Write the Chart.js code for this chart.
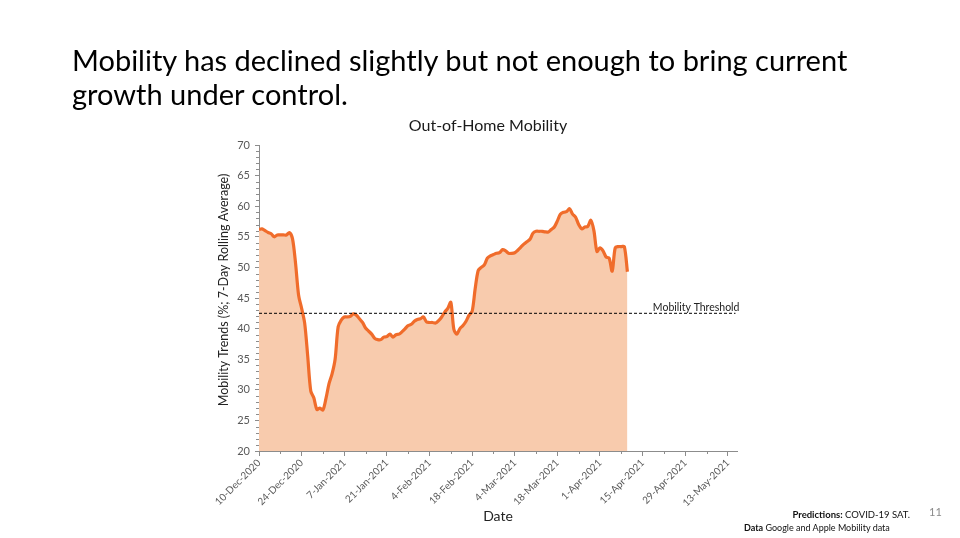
<!DOCTYPE html>
<html>
<head>
<meta charset="utf-8">
<script src="https://cdn.jsdelivr.net/npm/chart.js@4.4.0/dist/chart.umd.min.js"></script>
<style>
  body { margin: 0; background: #fff; font-family: Lato, "Open Sans", sans-serif; }
  #slide { position: relative; width: 960px; height: 538px; overflow: hidden; }
  #myChart { position: absolute; left: 0; top: 0; }
  .txt { position: absolute; white-space: nowrap; }
  #heading { left: 72px; top: 43px; font-size: 29px; line-height: 34px; color: #000; }
  #chartTitle { left: 0; width: 976px; text-align: center; top: 115px; font-size: 16px; color: #1a1a1a; }
  #pred { right: 50px; top: 509px; font-size: 9.5px; color: #111; }
  #data { left: 744px; top: 522px; font-size: 9px; color: #111; }
  #page { left: 929px; top: 505px; font-size: 11px; color: #8a8a8a; }
</style>
</head>
<body>
<div id="slide">
  <canvas id="myChart" width="960" height="538"></canvas>
  <div class="txt" id="heading">Mobility has declined slightly but not enough to bring current<br>growth under control.</div>
  <div class="txt" id="chartTitle">Out-of-Home Mobility</div>
  <div class="txt" id="pred"><b>Predictions:</b> COVID-19 SAT.</div>
  <div class="txt" id="data"><b>Data</b> Google and Apple Mobility data</div>
  <div class="txt" id="page">11</div>
</div>
<script>
"use strict";

// daily 7-day rolling average, 10-Dec-2020 .. 10-Apr-2021
const mobility = [
  56.2, 56.3, 56.0, 55.7, 55.5, 55.0, 55.3, 55.3, 55.3, 55.3,
  55.7, 54.7, 50.7, 45.5, 43.3, 40.9, 35.5, 29.8, 28.7, 26.8,
  27.0, 26.7, 28.6, 31.0, 32.6, 35.0, 40.3, 41.4, 41.9, 41.9,
  42.0, 42.4, 42.2, 41.6, 41.0, 40.1, 39.6, 39.1, 38.4, 38.2,
  38.2, 38.6, 38.7, 39.1, 38.6, 39.0, 39.1, 39.5, 40.0, 40.5,
  40.7, 41.2, 41.5, 41.6, 41.9, 41.1, 41.0, 41.0, 40.9, 41.3,
  41.9, 42.7, 43.3, 44.3, 39.9, 39.1, 40.0, 40.5, 41.2, 42.2,
  42.8, 46.5, 49.5, 50.0, 50.4, 51.5, 51.9, 52.1, 52.3, 52.4,
  52.9, 52.7, 52.3, 52.3, 52.4, 52.8, 53.3, 53.8, 54.2, 54.6,
  55.6, 55.9, 55.9, 55.9, 55.8, 55.8, 56.2, 56.6, 57.6, 58.7,
  59.0, 59.1, 59.6, 58.7, 58.2, 57.0, 56.3, 56.6, 56.7, 57.7,
  56.0, 52.6, 53.2, 52.7, 51.7, 51.5, 49.4, 53.2, 53.4, 53.4,
  53.4, 49.3
];

const tickDays = [0, 14, 28, 42, 56, 70, 84, 98, 112, 126, 140, 154];
const tickLabels = ['10-Dec-2020', '24-Dec-2020', '7-Jan-2021', '21-Jan-2021', '4-Feb-2021', '18-Feb-2021',
  '4-Mar-2021', '18-Mar-2021', '1-Apr-2021', '15-Apr-2021', '29-Apr-2021', '13-May-2021'];
const yTicks = [20, 25, 30, 35, 40, 45, 50, 55, 60, 65, 70];

const threshold = 42.5;
const thresholdRange = [0, 156.5];
const xRange = [0, 157];

const yTitle = 'Mobility Trends (%; 7-Day Rolling Average)';

const axisColor = '#8c8c8c';
const labelColor = '#595959';

const ctx = document.getElementById('myChart');

// small unlabelled ticks: weekly on x, every unit on y
const minorTicks = {
  id: 'minorTicks',
  afterDraw(chart) {
    const c = chart.ctx;
    const x = chart.scales.x, y = chart.scales.y;
    c.save();
    c.strokeStyle = axisColor;
    c.lineWidth = 1;
    c.beginPath();
    for (let v = yTicks[0]; v <= yTicks[yTicks.length - 1]; v++) {
      if (v % 5 === 0) continue;
      const py = Math.round(y.getPixelForValue(v)) + 0.5;
      c.moveTo(x.left - 3, py);
      c.lineTo(x.left, py);
    }
    for (let d = 7; d <= tickDays[tickDays.length - 1]; d += 14) {
      const px = Math.round(x.getPixelForValue(d)) + 0.5;
      c.moveTo(px, y.bottom);
      c.lineTo(px, y.bottom + 3);
    }
    c.stroke();
    c.restore();
  }
};

// threshold label + y title (sits a bit above the axis centre in the original)
const extraText = {
  id: 'extraText',
  afterDatasetsDraw(chart) {
    const c = chart.ctx;
    const x = chart.scales.x, y = chart.scales.y;
    c.save();
    c.font = '10.5px Lato, sans-serif';
    c.fillStyle = '#222';
    c.textAlign = 'right';
    c.textBaseline = 'alphabetic';
    c.fillText('Mobility Threshold', x.getPixelForValue(thresholdRange[1]) + 4, y.getPixelForValue(threshold) - 2);

    c.translate(x.left - 35, (y.top + y.bottom) / 2 - 8);
    c.rotate(-Math.PI / 2);
    c.font = '12.5px Lato, sans-serif';
    c.textAlign = 'center';
    c.textBaseline = 'middle';
    c.fillText(yTitle, 0, 0);
    c.restore();
  }
};

new Chart(ctx, {
  type: 'line',
  data: {
    datasets: [{
      label: 'Out-of-Home Mobility',
      data: mobility.map((v, i) => ({ x: i, y: v })),
      borderColor: '#F06C2B',
      backgroundColor: '#F8CBAD',
      borderWidth: 3.2,
      fill: 'start',
      pointRadius: 0,
      tension: 0.3,
      order: 2
    }, {
      label: 'Mobility Threshold',
      data: thresholdRange.map(d => ({ x: d, y: threshold })),
      borderColor: '#000',
      borderWidth: 1,
      borderDash: [3, 2],
      fill: false,
      pointRadius: 0,
      order: 1
    }]
  },
  options: {
    responsive: false,
    animation: false,
    layout: { padding: { left: 199, right: 223, top: 145, bottom: 13 } },
    plugins: {
      legend: { display: false },
      tooltip: { enabled: false }
    },
    scales: {
      x: {
        type: 'linear',
        min: xRange[0],
        max: xRange[1],
        afterBuildTicks: scale => { scale.ticks = tickDays.map(d => ({ value: d })); },
        afterFit: scale => { scale.height = 74; },
        ticks: {
          autoSkip: false,
          minRotation: 45,
          maxRotation: 45,
          padding: 1,
          color: labelColor,
          font: { family: 'Lato', size: 10 },
          callback: (val) => tickLabels[tickDays.indexOf(val)]
        },
        grid: { drawOnChartArea: false, drawTicks: true, tickLength: 5, color: axisColor },
        border: { color: axisColor },
        title: {
          display: true,
          text: 'Date',
          color: '#222',
          font: { family: 'Lato', size: 14 },
          padding: { top: 4, bottom: 0 }
        }
      },
      y: {
        min: 20,
        max: 70,
        afterBuildTicks: scale => { scale.ticks = yTicks.map(v => ({ value: v })); },
        afterFit: scale => { scale.width = 60; },
        ticks: {
          padding: 5,
          color: labelColor,
          font: { family: 'Lato', size: 11 }
        },
        grid: { drawOnChartArea: false, drawTicks: true, tickLength: 4, color: axisColor },
        border: { color: axisColor },
        title: { display: false }
      }
    }
  },
  plugins: [minorTicks, extraText]
});
</script>
</body>
</html>
